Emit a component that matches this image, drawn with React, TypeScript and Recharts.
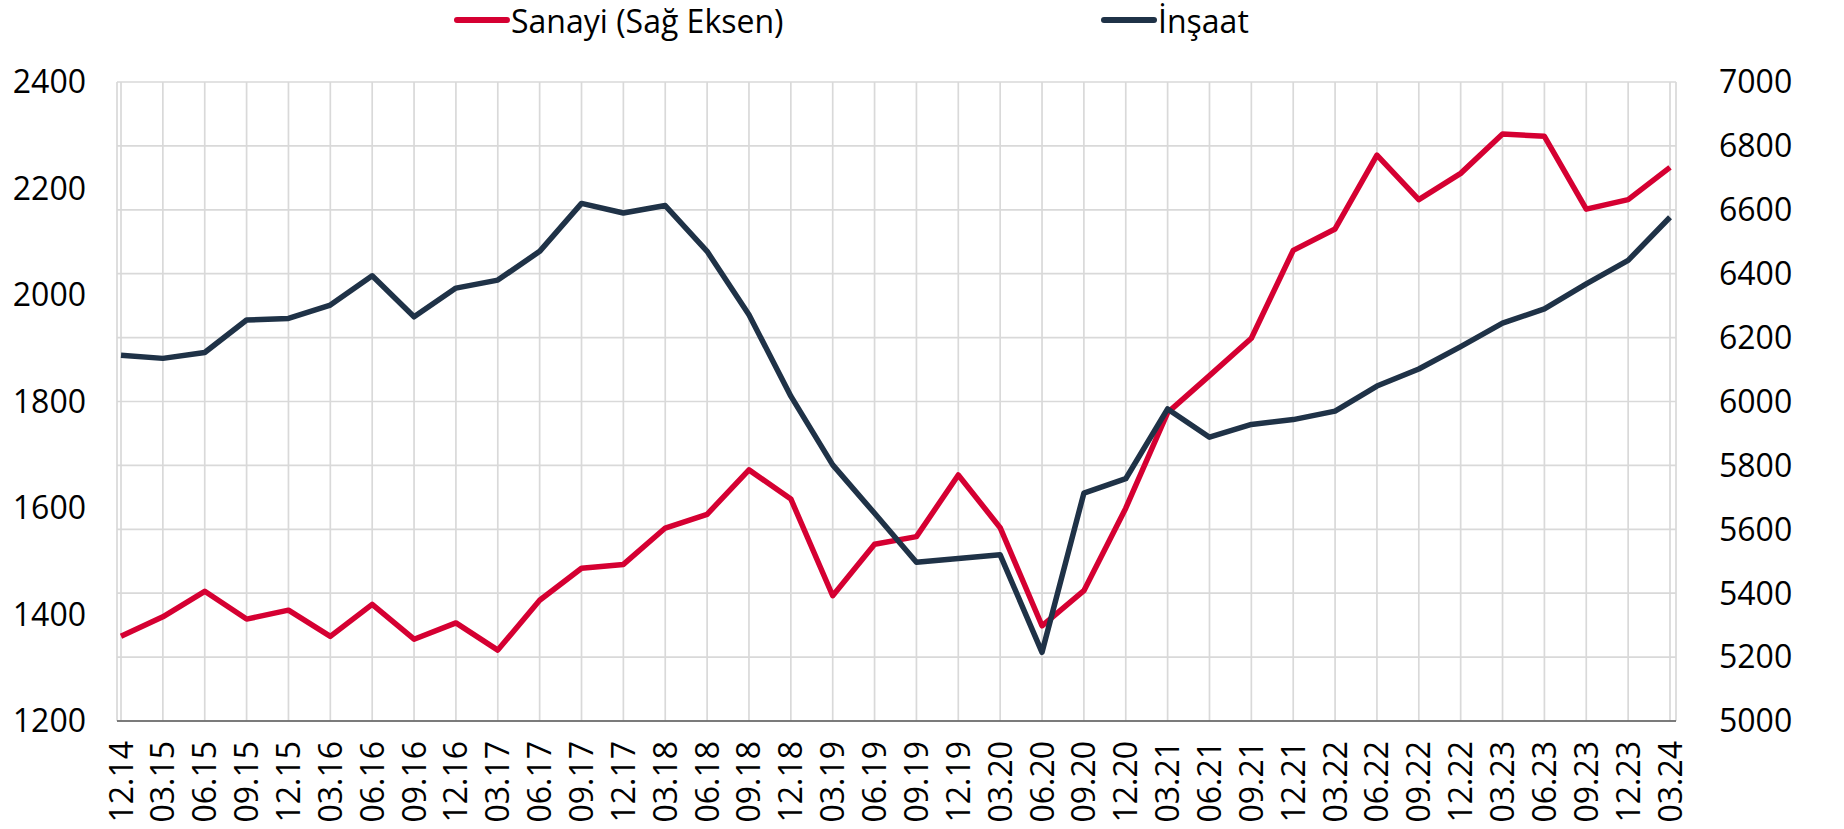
import { LineChart, Line, XAxis, YAxis, CartesianGrid } from "recharts";

const quarters = [
  "12.14", "03.15", "06.15", "09.15", "12.15", "03.16", "06.16", "09.16", "12.16",
  "03.17", "06.17", "09.17", "12.17", "03.18", "06.18", "09.18", "12.18",
  "03.19", "06.19", "09.19", "12.19", "03.20", "06.20", "09.20", "12.20",
  "03.21", "06.21", "09.21", "12.21", "03.22", "06.22", "09.22", "12.22",
  "03.23", "06.23", "09.23", "12.23", "03.24"
];

// İnşaat (left axis)
const insaat = [
  1887, 1881, 1892, 1953, 1956, 1981, 2036, 1959, 2013, 2028, 2082, 2172, 2154,
  2168, 2082, 1963, 1810, 1681, 1590, 1498, 1505, 1512, 1329, 1628, 1655, 1786,
  1733, 1757, 1766, 1782, 1829, 1861, 1903, 1947, 1974, 2021, 2065, 2146
];

// Sanayi (right axis)
const sanayi = [
  5265, 5326, 5406, 5319, 5347, 5265, 5365, 5256, 5307, 5222, 5378, 5478, 5490,
  5604, 5647, 5786, 5695, 5392, 5553, 5577, 5770, 5605, 5298, 5408, 5666, 5965,
  6081, 6198, 6473, 6540, 6771, 6632, 6714, 6837, 6830, 6602, 6632, 6733
];

const leftTicks = [1200, 1400, 1600, 1800, 2000, 2200, 2400];
const rightTicks = [5000, 5200, 5400, 5600, 5800, 6000, 6200, 6400, 6600, 6800, 7000];

const RED = "#D50032";
const NAVY = "#1F3247";
const FONT = "'Open Sans', sans-serif";
const FS = 32;

const data = quarters.map((q, i) => ({ q, insaat: insaat[i], sanayi: sanayi[i] }));

const XTick = ({ x, y, payload }: any) => (
  <text
    x={x}
    y={y}
    transform={`rotate(-90, ${x}, ${y})`}
    textAnchor="end"
    dy="0.36em"
    fontSize={FS}
    fontFamily={FONT}
    fill="#000"
  >
    {payload.value}
  </text>
);

const LegendItem = ({ color, label, left }: { color: string; label: string; left: number }) => (
  <div style={{ position: "absolute", left, top: 0, display: "flex", alignItems: "center", height: 40 }}>
    <svg width={56} height={10}>
      <line x1={3} y1={5} x2={53} y2={5} stroke={color} strokeWidth={6} strokeLinecap="round" />
    </svg>
    <span style={{ fontFamily: FONT, fontSize: FS, color: "#000", marginLeft: 1, whiteSpace: "nowrap" }}>
      {label}
    </span>
  </div>
);

export default function App() {
  return (
    <div style={{ position: "absolute", left: 0, top: 0, width: 1844, height: 829, background: "#fff" }}>
      <LegendItem color={RED} label="Sanayi (Sağ Eksen)" left={454} />
      <LegendItem color={NAVY} label="İnşaat" left={1101} />
      <LineChart
        width={1844}
        height={829}
        data={data}
        margin={{ top: 82, right: 8, bottom: 0, left: 17 }}
      >
        <CartesianGrid yAxisId="right" stroke="#D9D9D9" strokeWidth={1.7} />
        <XAxis
          dataKey="q"
          interval={0}
          height={108}
          tick={<XTick />}
          tickLine={false}
          tickSize={0}
          tickMargin={20}
          axisLine={{ stroke: "#595959", strokeWidth: 1.5 }}
          padding={{ left: 4, right: 6 }}
        />
        <YAxis
          yAxisId="left"
          orientation="left"
          width={100}
          domain={[1200, 2400]}
          ticks={leftTicks}
          interval={0}
          axisLine={false}
          tickLine={false}
          tickSize={0}
          tickMargin={31}
          tick={{ fontSize: FS, fontFamily: FONT, fill: "#000" }}
        />
        <YAxis
          yAxisId="right"
          orientation="right"
          width={160}
          domain={[5000, 7000]}
          ticks={rightTicks}
          interval={0}
          axisLine={false}
          tickLine={false}
          tickSize={0}
          tickMargin={43}
          tick={{ fontSize: FS, fontFamily: FONT, fill: "#000", textAnchor: "start" }}
        />
        <Line
          yAxisId="right"
          dataKey="sanayi"
          stroke={RED}
          strokeWidth={5.5}
          dot={false}
          isAnimationActive={false}
          strokeLinejoin="round"
        />
        <Line
          yAxisId="left"
          dataKey="insaat"
          stroke={NAVY}
          strokeWidth={5.5}
          dot={false}
          isAnimationActive={false}
          strokeLinejoin="round"
        />
      </LineChart>
    </div>
  );
}
